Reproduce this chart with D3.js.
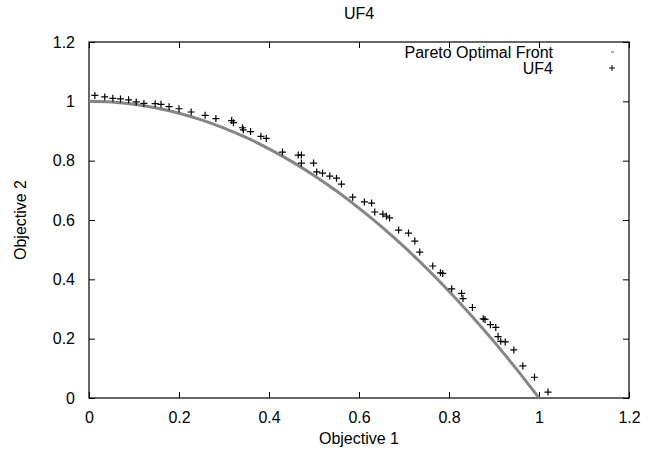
<!DOCTYPE html>
<html>
<head>
<meta charset="utf-8">
<script src="https://cdn.jsdelivr.net/npm/d3@7"></script>
<style>
  body { margin: 0; background: #fff; }
  text { font-family: "Liberation Sans", Arial, sans-serif; }
</style>
</head>
<body>
<script>
var width = 655, height = 456;
var margin = {top: 42, right: 26, bottom: 58, left: 89};

var xTicks = [0, 0.2, 0.4, 0.6, 0.8, 1, 1.2];
var yTicks = [0, 0.2, 0.4, 0.6, 0.8, 1, 1.2];

// Pareto optimal front sample points (f2 = 1 - f1^2)
var frontX = [0, 0.05, 0.1, 0.15, 0.2, 0.25, 0.3, 0.35, 0.4, 0.45, 0.5, 0.55, 0.6, 0.65, 0.7, 0.75, 0.8, 0.85, 0.9, 0.95, 1];
var frontY = [1, 0.9975, 0.99, 0.9775, 0.96, 0.9375, 0.91, 0.8775, 0.84, 0.7975, 0.75, 0.6975, 0.64, 0.5775, 0.51, 0.4375, 0.36, 0.2775, 0.19, 0.0975, 0];

// UF4 obtained solutions
var ufX = [0.013, 0.035, 0.053, 0.07, 0.088, 0.105, 0.122, 0.147, 0.16, 0.178, 0.2, 0.227, 0.258, 0.282, 0.317, 0.321,
           0.341, 0.343, 0.359, 0.382, 0.394, 0.43, 0.465, 0.472, 0.472, 0.499, 0.506, 0.519, 0.535, 0.55, 0.561,
           0.586, 0.612, 0.628, 0.635, 0.653, 0.661, 0.668, 0.688, 0.71, 0.724, 0.735, 0.764, 0.781, 0.786, 0.806,
           0.828, 0.831, 0.852, 0.876, 0.88, 0.892, 0.904, 0.909, 0.915, 0.925, 0.944, 0.964, 0.99, 1.02];
var ufY = [1.02, 1.015, 1.01, 1.008, 1.005, 0.998, 0.993, 0.992, 0.99, 0.982, 0.975, 0.964, 0.953, 0.942, 0.935, 0.928,
           0.911, 0.904, 0.898, 0.882, 0.875, 0.829, 0.819, 0.819, 0.792, 0.792, 0.762, 0.758, 0.748, 0.741, 0.721,
           0.677, 0.661, 0.657, 0.627, 0.62, 0.613, 0.607, 0.566, 0.556, 0.529, 0.492, 0.445, 0.422, 0.42, 0.368,
           0.353, 0.335, 0.305, 0.267, 0.265, 0.247, 0.238, 0.207, 0.191, 0.189, 0.162, 0.108, 0.07, 0.02];

var legendLabels = ['Pareto Optimal Front', 'UF4'];

var fontSize = '16px';

var svg = d3.select('body').append('svg')
  .attr('width', width)
  .attr('height', height);

var x = d3.scaleLinear().domain([0, 1.2]).range([margin.left, width - margin.right]);
var y = d3.scaleLinear().domain([0, 1.2]).range([height - margin.bottom, margin.top]);

var tickLen = 6;

// inward ticks on all four sides, gnuplot style
svg.append('g')
  .attr('transform', 'translate(0,' + y(0) + ')')
  .call(d3.axisBottom(x).tickValues(xTicks).tickSize(-tickLen).tickPadding(14).tickFormat(d3.format('')))
  .call(g => g.select('.domain').remove());
svg.append('g')
  .attr('transform', 'translate(0,' + y(1.2) + ')')
  .call(d3.axisTop(x).tickValues(xTicks).tickSize(-tickLen).tickFormat(''))
  .call(g => g.select('.domain').remove());
svg.append('g')
  .attr('transform', 'translate(' + x(0) + ',0)')
  .call(d3.axisLeft(y).tickValues(yTicks).tickSize(-tickLen).tickPadding(14).tickFormat(d3.format('')))
  .call(g => g.select('.domain').remove());
svg.append('g')
  .attr('transform', 'translate(' + x(1.2) + ',0)')
  .call(d3.axisRight(y).tickValues(yTicks).tickSize(-tickLen).tickFormat(''))
  .call(g => g.select('.domain').remove());

svg.selectAll('.tick text')
  .style('font-size', fontSize)
  .style('fill', '#000');
svg.selectAll('.tick line').style('stroke', '#000');

// frame
svg.append('rect')
  .attr('x', x(0)).attr('y', y(1.2))
  .attr('width', x(1.2) - x(0)).attr('height', y(0) - y(1.2))
  .style('fill', 'none').style('stroke', '#000').style('stroke-width', 1.2);

// front
var line = d3.line().x(d => x(d[0])).y(d => y(d[1]));
svg.append('path')
  .datum(d3.zip(frontX, frontY))
  .attr('d', line.curve(d3.curveMonotoneX))
  .style('fill', 'none')
  .style('stroke', '#858585')
  .style('stroke-width', 3);

// UF4 points
var s = 3.5;
svg.append('g').selectAll('path')
  .data(d3.zip(ufX, ufY))
  .enter()
  .append('path')
  .attr('d', function (d) {
    var px = x(d[0]), py = y(d[1]);
    return 'M' + (px - s) + ' ' + py + 'h' + (2 * s) + 'M' + px + ' ' + (py - s) + 'v' + (2 * s);
  })
  .style('stroke', '#000')
  .style('stroke-width', 1.2);

// legend
var legend = svg.append('g');
legend.selectAll('text')
  .data(legendLabels)
  .enter()
  .append('text')
  .attr('x', 553)
  .attr('y', function (d, i) { return 58 + i * 16; })
  .attr('text-anchor', 'end')
  .style('font-size', fontSize)
  .text(d => d);
legend.append('line')
  .attr('x1', 611).attr('x2', 614).attr('y1', 52).attr('y2', 52)
  .style('stroke', '#808080').style('stroke-width', 1.2);
legend.append('path')
  .attr('d', 'M609 68h6M612 65v6')
  .style('stroke', '#000').style('stroke-width', 1);

// titles
svg.append('text')
  .attr('x', (x(0) + x(1.2)) / 2).attr('y', 19)
  .attr('text-anchor', 'middle')
  .style('font-size', fontSize)
  .text('UF4');
svg.append('text')
  .attr('x', (x(0) + x(1.2)) / 2).attr('y', 444)
  .attr('text-anchor', 'middle')
  .style('font-size', fontSize)
  .text('Objective 1');
svg.append('text')
  .attr('transform', 'translate(26,' + (y(0) + y(1.2)) / 2 + ') rotate(-90)')
  .attr('text-anchor', 'middle')
  .style('font-size', fontSize)
  .text('Objective 2');
</script>
</body>
</html>
